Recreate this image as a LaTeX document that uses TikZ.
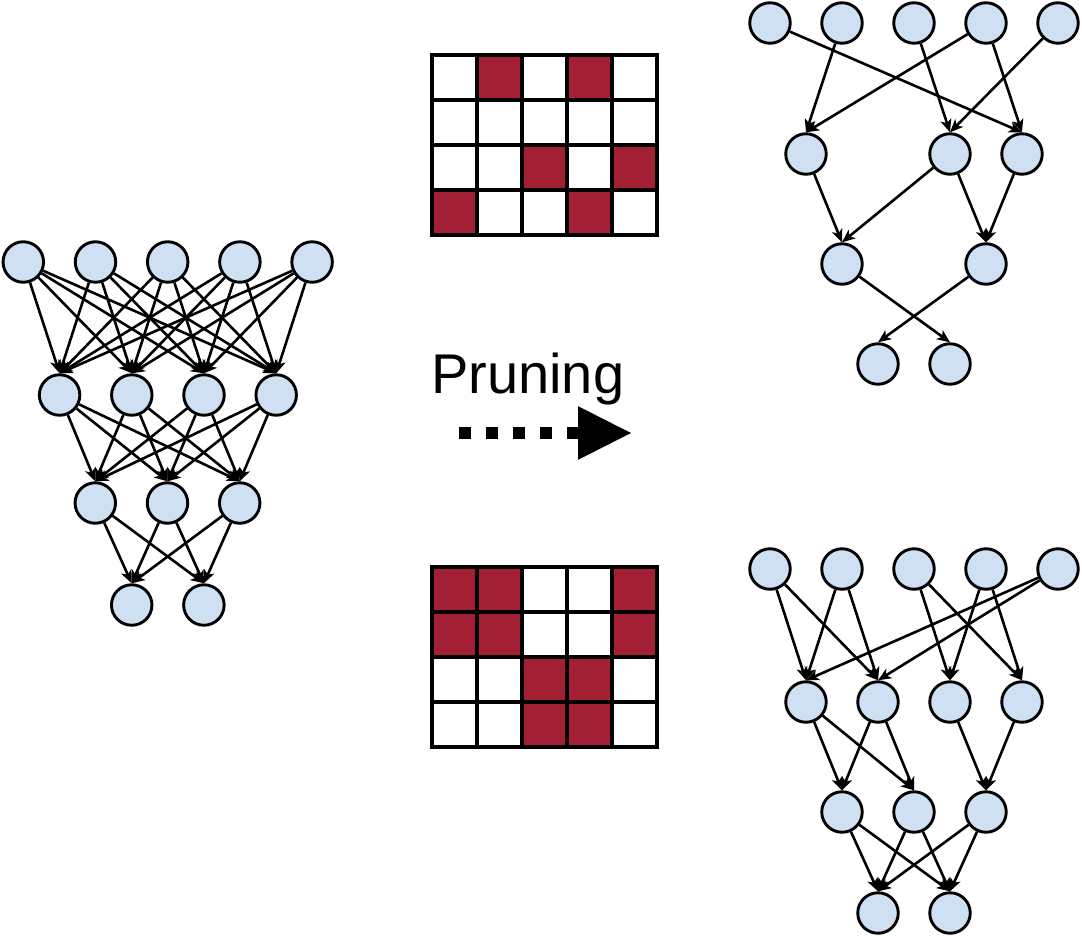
\documentclass[tikz,border=0pt]{standalone}
\usepackage{fontspec}
\setmainfont{Liberation Sans}
\usetikzlibrary{arrows.meta}
\definecolor{nodefill}{RGB}{207,224,242}
\definecolor{maskred}{RGB}{163,32,52}
\begin{document}
\begin{tikzpicture}[x=1pt,y=-1pt,
  neuron/.style={circle, draw=black, line width=2.9pt, fill=nodefill, minimum size=40.5pt, inner sep=0pt},
  conn/.style={line width=2.6pt, -{Stealth[length=13pt,width=11pt,inset=3.5pt]}},
  gridline/.style={line width=4pt, line cap=rect},
  masked/.style={fill=maskred}]
\useasboundingbox (0,0) rectangle (1082,936);

% ---------- left: dense network ----------
\foreach \i in {0,...,4} \node[neuron] (La\i) at ({23.3+72.2*\i},262) {};
\foreach \i in {0,...,3} \node[neuron] (Lb\i) at ({59.6+72.2*\i},395) {};
\foreach \i in {0,...,2} \node[neuron] (Lc\i) at ({95.3+72.2*\i},503) {};
\foreach \i in {0,1} \node[neuron] (Ld\i) at ({131.7+72.2*\i},605) {};
\foreach \i in {0,...,4} \foreach \j in {0,...,3} \draw[conn] (La\i) -- (Lb\j.north);
\foreach \i in {0,...,3} \foreach \j in {0,...,2} \draw[conn] (Lb\i) -- (Lc\j.north);
\foreach \i in {0,...,2} \foreach \j in {0,1} \draw[conn] (Lc\i) -- (Ld\j.north);

% ---------- top right: pruned network ----------
\foreach \i in {0,...,4} \node[neuron] (TRa\i) at ({770+72*\i},23) {};
\node[neuron] (TRb0) at (806,154) {};
\node[neuron] (TRb1) at (950,154) {};
\node[neuron] (TRb2) at (1022,154) {};
\node[neuron] (TRc0) at (842,264) {};
\node[neuron] (TRc1) at (986,264) {};
\node[neuron] (TRd0) at (878,364) {};
\node[neuron] (TRd1) at (950,364) {};
\foreach \s/\t in {TRa0/TRb2, TRa1/TRb0, TRa2/TRb1, TRa3/TRb0, TRa3/TRb2, TRa4/TRb1,
                   TRb0/TRc0, TRb1/TRc0, TRb1/TRc1, TRb2/TRc1, TRc0/TRd1, TRc1/TRd0}
  \draw[conn] (\s) -- (\t.north);

% ---------- bottom right: pruned network ----------
\foreach \i in {0,...,4} \node[neuron] (BRa\i) at ({770+72*\i},569) {};
\foreach \i in {0,...,3} \node[neuron] (BRb\i) at ({806+72*\i},702) {};
\foreach \i in {0,...,2} \node[neuron] (BRc\i) at ({842+72*\i},812) {};
\foreach \i in {0,1} \node[neuron] (BRd\i) at ({878+72*\i},913) {};
\foreach \s/\t in {BRa0/BRb0, BRa0/BRb1, BRa1/BRb0, BRa1/BRb1, BRa2/BRb2, BRa2/BRb3,
                   BRa3/BRb2, BRa3/BRb3, BRa4/BRb0, BRa4/BRb1,
                   BRb0/BRc0, BRb0/BRc1, BRb1/BRc0, BRb1/BRc1, BRb2/BRc2, BRb3/BRc2,
                   BRc0/BRd0, BRc0/BRd1, BRc1/BRd0, BRc1/BRd1, BRc2/BRd0, BRc2/BRd1}
  \draw[conn] (\s) -- (\t.north);

% ---------- masks ----------
\foreach \c/\r in {2/1,4/1,3/3,5/3,1/4,4/4}
  \fill[masked] ({432+45*(\c-1)},{55+45*(\r-1)}) rectangle +(45,45);
\foreach \k in {0,...,5} \draw[gridline] ({432+45*\k},55) -- ({432+45*\k},235);
\foreach \k in {0,...,4} \draw[gridline] (432,{55+45*\k}) -- (657,{55+45*\k});

\foreach \c/\r in {1/1,2/1,5/1,1/2,2/2,5/2,3/3,4/3,3/4,4/4}
  \fill[masked] ({432+45*(\c-1)},{567+45*(\r-1)}) rectangle +(45,45);
\foreach \k in {0,...,5} \draw[gridline] ({432+45*\k},567) -- ({432+45*\k},747);
\foreach \k in {0,...,4} \draw[gridline] (432,{567+45*\k}) -- (657,{567+45*\k});

% ---------- label and arrow ----------
\node[anchor=base west, inner sep=0pt, font=\fontsize{56}{67}\selectfont] (lbl) at (431,393) {Pruning};
\coordinate (arrS) at (459,433);
\coordinate (arrE) at (632,433);
\draw[line width=12pt, dash pattern=on 12pt off 15pt, -{Triangle[length=54pt,width=50pt]}] (arrS) -- (arrE);
\end{tikzpicture}
\end{document}
